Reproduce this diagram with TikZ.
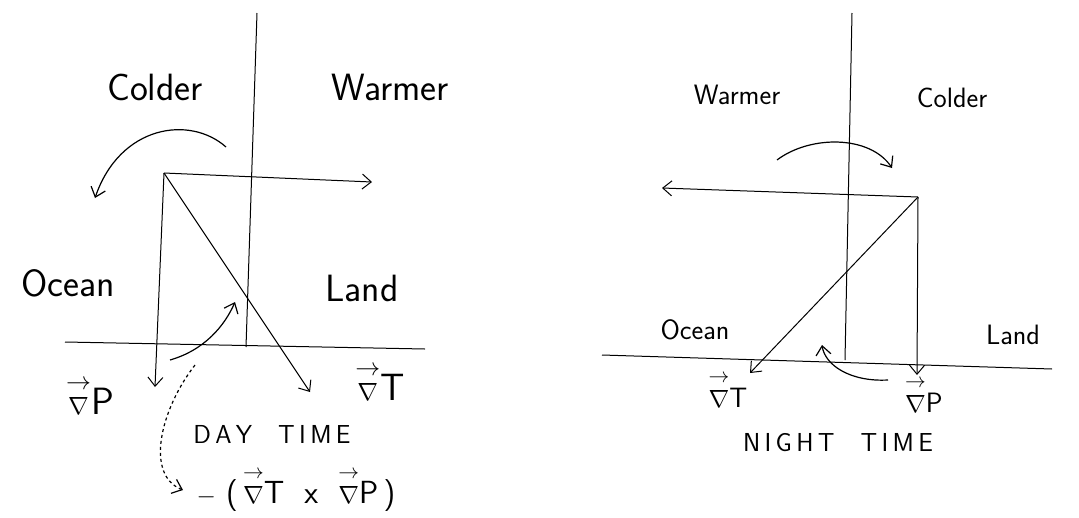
\documentclass[tikz,border=0pt]{standalone}
\usepackage{amsmath}
\usepackage{tikz}
\usetikzlibrary{arrows.meta}

\newcommand{\gradv}{\ensuremath{\overset{\raisebox{3pt}{$\scriptstyle\rightarrow$}}{\nabla}}}

\begin{document}
\begin{tikzpicture}[x=1pt,y=-1pt,>={Straight Barb[length=9pt,width=15pt]},
  every node/.style={font=\sffamily\fontsize{38}{42}\selectfont},
  small/.style={font=\sffamily\fontsize{28}{32}\selectfont},
  caps/.style={font=\sffamily\fontsize{26}{28}\selectfont},
  axis/.style={line width=1pt},
  vec/.style={->,line width=1pt},
  turn/.style={->,line width=1.2pt}]
\useasboundingbox (0,0) rectangle (1079,517);
% day time
\coordinate (dtop) at (257,13);
\coordinate (dbase) at (246,347);
\coordinate (dleft) at (65,342);
\coordinate (dright) at (425,349);
\coordinate (dc) at (164,173);
\coordinate (dwind) at (372,182);
\coordinate (dgp) at (155,387);
\coordinate (dgt) at (310,392);
\draw[axis] (dtop) -- (dbase);
\draw[axis] (dleft) -- (dright);
\draw[vec] (dc) -- (dwind);
\draw[vec] (dc) -- (dgp);
\draw[vec] (dc) -- (dgt);
\node (dcold) at (155,87) {Colder};
\node (dwarm) at (390,87) {Warmer};
\node (docean) at (68,283) {Ocean};
\node (dland) at (362,288) {Land};
\node (dlp) at (90,396) {\gradv P};
\node (dlt) at (380,382) {\gradv T};
\node[caps] (dtime) at (272,434) {D\,A\,Y\quad T\,I\,M\,E};
\node[font=\sffamily\fontsize{32}{36}\selectfont] (dcross) at (296,490) {$-$\ (\,\gradv T\ \ x\ \ \gradv P\,)};
\coordinate (da1) at (226,147);
\coordinate (da2) at (95,198);
\coordinate (db1) at (170,360);
\coordinate (db2) at (235,302);
\coordinate (dd1) at (195,365);
\coordinate (dd2) at (183,490);
\draw[turn] (da1) .. controls (190,115) and (120,125) .. (da2);
\draw[turn] (db1) .. controls (205,350) and (225,325) .. (db2);
\draw[turn,dashed] (dd1) .. controls (160,410) and (145,475) .. (dd2);
% night time
\coordinate (ntop) at (852,13);
\coordinate (nbase) at (845,360);
\coordinate (nleft) at (602,355);
\coordinate (nright) at (1052,369);
\coordinate (nc) at (918,197);
\coordinate (nwind) at (662,188);
\coordinate (ngp) at (917,375);
\coordinate (ngt) at (750,373);
\draw[axis] (ntop) -- (nbase);
\draw[axis] (nleft) -- (nright);
\draw[vec] (nc) -- (nwind);
\draw[vec] (nc) -- (ngp);
\draw[vec] (nc) -- (ngt);
\node[small] (nwarm) at (737,95) {Warmer};
\node[small] (ncold) at (952,98) {Colder};
\node[small] (nocean) at (695,330) {Ocean};
\node[small] (nland) at (1013,335) {Land};
\node[small] (nlt) at (728,390) {\gradv T};
\node[small] (nlp) at (924,395) {\gradv P};
\node[caps] (ntime) at (838,443) {N\,I\,G\,H\,T\quad T\,I\,M\,E};
\coordinate (na1) at (777,160);
\coordinate (na2) at (892,168);
\coordinate (nb1) at (888,380);
\coordinate (nb2) at (822,345);
\draw[turn] (na1) .. controls (810,135) and (870,135) .. (na2);
\draw[turn] (nb1) .. controls (850,382) and (825,365) .. (nb2);
\end{tikzpicture}
\end{document}
